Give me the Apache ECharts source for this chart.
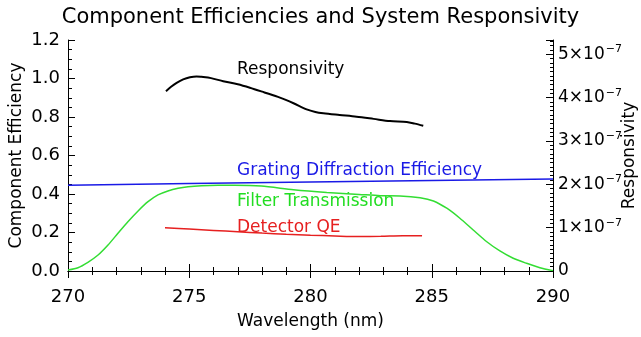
<!DOCTYPE html>
<html>
<head>
<meta charset="utf-8">
<script src="https://cdn.jsdelivr.net/npm/echarts@6/dist/echarts.min.js"></script>
<style>
html,body{margin:0;padding:0;background:#fff;}
#chart{width:641px;height:337px;}
</style>
</head>
<body>
<div id="chart"></div>
<script>
// Wavelength (nm) / value pairs
var gratingWl = [270, 275, 280, 285, 290];
var gratingEff = [0.445, 0.454, 0.462, 0.470, 0.478];

var filterWl = [270.0, 270.41, 270.82, 271.24, 271.65, 272.06, 272.47, 272.89, 273.3, 273.71, 274.12, 274.54, 274.95, 275.5, 276.19, 276.87, 277.97, 279.3, 280.67, 282.0, 282.87, 283.69, 284.52, 285.07, 285.62, 286.16, 286.71, 287.27, 287.81, 288.36, 288.91, 289.46, 290.0];
var filterTr = [0.005, 0.017, 0.045, 0.083, 0.135, 0.196, 0.256, 0.312, 0.360, 0.395, 0.416, 0.430, 0.438, 0.443, 0.445, 0.445, 0.441, 0.422, 0.408, 0.398, 0.391, 0.390, 0.381, 0.364, 0.326, 0.274, 0.213, 0.152, 0.104, 0.066, 0.040, 0.017, 0.002];

var qeWl = [274.0, 275.0, 276.0, 277.0, 278.0, 279.0, 280.0, 281.0, 282.0, 282.9, 283.8, 284.6];
var qeVal = [0.225, 0.218, 0.211, 0.204, 0.197, 0.191, 0.186, 0.182, 0.179, 0.180, 0.183, 0.183];

var respWl = [274.04, 274.25, 274.48, 274.75, 275.03, 275.3, 275.5, 275.9, 276.4, 277.0, 277.5, 278.1, 278.74, 279.3, 279.84, 280.2, 280.53, 281.2, 281.9, 282.6, 283.28, 283.97, 284.3, 284.65];
var respVal = [4.15e-7, 4.25e-7, 4.34e-7, 4.42e-7, 4.47e-7, 4.49e-7, 4.48e-7, 4.45e-7, 4.38e-7, 4.31e-7, 4.23e-7, 4.12e-7, 4.00e-7, 3.87e-7, 3.73e-7, 3.67e-7, 3.64e-7, 3.60e-7, 3.56e-7, 3.51e-7, 3.46e-7, 3.44e-7, 3.40e-7, 3.35e-7];

var xTicks = [270, 275, 280, 285, 290];
var yTicks = [0.0, 0.2, 0.4, 0.6, 0.8, 1.0, 1.2];
var rTicks = [0, 1, 2, 3, 4, 5];

function pairs(xs, ys){ return xs.map(function(x,i){ return [x, ys[i]]; }); }

var FONT = 'DejaVu Sans';
var chart = echarts.init(document.getElementById('chart'), null, {renderer:'canvas'});
var axisLineStyle = {color:'#000', width:1};
var option = {
  backgroundColor:'#fff',
  animation:false,
  title:{
    text:'Component Efficiencies and System Responsivity',
    left:'center', top:2,
    textStyle:{fontFamily:FONT, fontWeight:'normal', fontSize:21, color:'#000'}
  },
  grid:{left:68, right:88, top:40, bottom:66, show:false, containLabel:false, outerBoundsMode:'none'},
  xAxis:[{
    type:'value', min:270, max:290, interval:5,
    name:'Wavelength (nm)', nameLocation:'middle', nameGap:42, nameMoveOverlap:false,
    nameTextStyle:{fontFamily:FONT, fontSize:17, color:'#000'},
    axisLine:{show:true, lineStyle:axisLineStyle},
    axisTick:{show:true, inside:true, length:7, lineStyle:axisLineStyle},
    minorTick:{show:true, splitNumber:5, length:4, lineStyle:{color:'#000'}},
    splitLine:{show:false},
    axisLabel:{fontFamily:FONT, fontSize:18, color:'#000', margin:17,
      formatter:function(v){ return xTicks.indexOf(v)>=0 ? String(v) : ''; }}
  },{
    type:'value', min:270, max:290, interval:5, position:'top',
    axisLine:{show:true, lineStyle:axisLineStyle},
    axisTick:{show:true, inside:true, length:7, lineStyle:axisLineStyle},
    minorTick:{show:true, splitNumber:5, length:4, lineStyle:{color:'#000'}},
    splitLine:{show:false},
    axisLabel:{show:false}
  }],
  yAxis:[{
    type:'value', min:0, max:1.2, interval:0.2,
    name:'Component Efficiency', nameLocation:'middle', nameGap:43, nameMoveOverlap:false,
    nameTextStyle:{fontFamily:FONT, fontSize:17, color:'#000'},
    axisLine:{show:true, lineStyle:axisLineStyle},
    axisTick:{show:true, inside:true, length:7, lineStyle:axisLineStyle},
    minorTick:{show:true, splitNumber:4, length:4, lineStyle:{color:'#000'}},
    splitLine:{show:false},
    axisLabel:{fontFamily:FONT, fontSize:18, color:'#000', margin:8,
      formatter:function(v){ return v.toFixed(1); }}
  },{
    type:'value', min:0, max:5.33e-7, interval:1e-7, position:'right',
    name:'Responsivity', nameLocation:'middle', nameGap:68, nameMoveOverlap:false,
    nameTextStyle:{fontFamily:FONT, fontSize:17, color:'#000'},
    axisLine:{show:true, lineStyle:axisLineStyle},
    axisTick:{show:true, inside:true, length:7, lineStyle:axisLineStyle},
    minorTick:{show:true, splitNumber:10, length:3, lineStyle:{color:'#000'}},
    splitLine:{show:false},
    axisLabel:{fontFamily:FONT, fontSize:17, color:'#000', margin:5, showMaxLabel:false,
      formatter:function(v){
        var n = Math.round(v/1e-7);
        if (Math.abs(v - n*1e-7) > 1e-9 || rTicks.indexOf(n) < 0) return '';
        if (n === 0) return '{a|0}';
        return '{a|' + n + '×10}{b|−7}';
      },
      rich:{
        a:{fontFamily:FONT, fontSize:17, color:'#000'},
        b:{fontFamily:FONT, fontSize:11, color:'#000', padding:[0,0,10,1]}
      }
    }
  }],
  series:[
    {type:'line', name:'Grating', data:pairs(gratingWl, gratingEff), showSymbol:false, symbol:'none',
      xAxisIndex:0, yAxisIndex:0, lineStyle:{color:'#1a1ae6', width:1.5}},
    {type:'line', name:'Filter', data:pairs(filterWl, filterTr), showSymbol:false, symbol:'none', smooth:0.25,
      xAxisIndex:0, yAxisIndex:0, lineStyle:{color:'#33dd33', width:1.5}},
    {type:'line', name:'QE', data:pairs(qeWl, qeVal), showSymbol:false, symbol:'none', smooth:0.3,
      xAxisIndex:0, yAxisIndex:0, lineStyle:{color:'#e62020', width:1.5}},
    {type:'line', name:'Responsivity', data:pairs(respWl, respVal), showSymbol:false, symbol:'none', smooth:0.3,
      xAxisIndex:0, yAxisIndex:1, lineStyle:{color:'#000', width:2}}
  ],
  graphic:[
    {type:'text', left:237, top:61, style:{text:'Responsivity', font:'17px "DejaVu Sans"', fill:'#000'}},
    {type:'text', left:237, top:162, style:{text:'Grating Diffraction Efficiency', font:'17px "DejaVu Sans"', fill:'#1a1ae6'}},
    {type:'text', left:237, top:193, style:{text:'Filter Transmission', font:'17px "DejaVu Sans"', fill:'#22dd22'}},
    {type:'text', left:237, top:219, style:{text:'Detector QE', font:'17px "DejaVu Sans"', fill:'#e62020'}}
  ]
};
chart.setOption(option);
</script>
</body>
</html>
